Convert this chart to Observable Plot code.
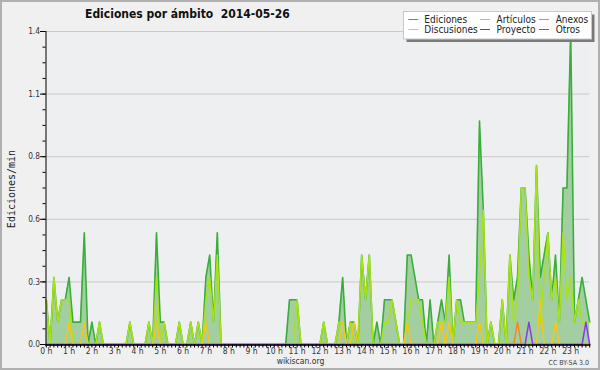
<!DOCTYPE html>
<html><head><meta charset="utf-8">
<script src="https://cdn.jsdelivr.net/npm/d3@7"></script>
<script src="https://cdn.jsdelivr.net/npm/@observablehq/plot@0.6"></script>
<style>
html,body{margin:0;padding:0;background:#f0f0f0;}
#wrap{position:relative;width:600px;height:370px;overflow:hidden;}
</style></head><body>
<div id="wrap"></div>
<script>
// 10-minute slots, 00:00 .. 23:50 (edits per minute)
const ediciones = [
0.2,0,0.3,0.1,0.2,0.2,0.3,0.1,0.1,0.1,
0.5,0,0.1,0,0.1,0,0,0,0,0,
0,0,0.1,0,0,0,0,0.1,0,0.5,
0.1,0.1,0,0,0,0.1,0,0,0.1,0,
0.1,0,0.3,0.4,0.1,0.5,0,0,0,0,
0,0,0,0,0,0,0,0,0,0,
0,0,0,0,0.2,0.2,0.2,0,0,0,
0,0,0,0.1,0,0,0,0.1,0.3,0,
0.1,0.1,0,0.4,0.2,0.4,0,0.1,0,0.2,
0.2,0.2,0.1,0,0,0.4,0.4,0.3,0.2,0.2,
0,0.2,0,0.1,0.2,0.1,0.4,0,0.2,0.2,
0.1,0.1,0.1,0.1,1.0,0.6,0,0.1,0,0,
0.2,0,0.4,0.2,0.3,0.7,0.7,0.4,0.2,0.8,
0.3,0.4,0.5,0.2,0.4,0.1,0.7,0.7,1.4,0.1,
0.2,0.3,0.2,0.1];
const articulos = [
0.2,0,0.3,0.1,0.2,0.2,0.2,0,0,0,
0,0,0,0,0.1,0,0,0,0,0,
0,0,0.1,0,0,0,0,0.1,0,0.3,
0,0.1,0,0,0,0.1,0,0,0.1,0,
0.1,0,0.2,0.3,0.1,0.4,0,0,0,0,
0,0,0,0,0,0,0,0,0,0,
0,0,0,0,0,0,0.2,0,0,0,
0,0,0,0.1,0,0,0,0.1,0.1,0,
0.1,0,0,0.4,0.2,0.4,0,0,0,0.1,
0.1,0.2,0.1,0,0,0.1,0.2,0.2,0.2,0.1,
0,0,0,0.1,0.1,0.1,0.3,0,0.2,0.1,
0.1,0.1,0.1,0.1,0.3,0.6,0,0.1,0,0,
0.2,0,0.4,0.1,0.2,0.7,0.7,0.3,0.2,0.8,
0.1,0.3,0.5,0.2,0.3,0.1,0.5,0.2,0.3,0.1,
0.2,0.1,0.1,0.1];
const discusiones = [
0,0,0,0,0,0,0.1,0,0,0,
0.1,0,0,0,0,0,0,0,0,0,
0,0,0,0,0,0,0,0,0,0.1,
0,0,0,0,0,0,0,0,0,0,
0,0,0.1,0,0,0,0,0,0,0,
0,0,0,0,0,0,0,0,0,0,
0,0,0,0,0,0,0,0,0,0,
0,0,0,0,0,0,0,0,0.1,0,
0,0.1,0,0,0,0,0,0,0,0,
0,0,0,0,0,0.1,0,0,0,0,
0,0,0,0,0.1,0,0.1,0,0,0,
0,0,0,0,0.1,0,0,0,0,0,
0,0,0,0,0,0,0,0,0,0,
0.2,0,0,0,0.1,0,0,0,0,0,
0,0,0,0];
const anexos = [
0,0,0,0,0,0,0,0,0,0, 0,0,0,0,0,0,0,0,0,0,
0,0,0,0,0,0,0,0,0,0, 0,0,0,0,0,0,0,0,0,0,
0,0,0,0,0,0,0,0,0,0, 0,0,0,0,0,0,0,0,0,0,
0,0,0,0,0,0,0,0,0,0, 0,0,0,0,0,0,0,0,0,0,
0,0,0,0,0,0,0,0,0,0, 0,0,0,0,0,0,0,0,0,0,
0,0,0,0,0,0,0,0,0,0, 0,0,0,0,0,0,0,0,0,0,
0,0,0,0,0.1,0,0,0,0,0, 0,0,0,0,0,0,0,0,0,0,
0,0,0,0];
const proyecto = [
0,0,0,0,0,0,0,0,0,0, 0,0,0,0,0,0,0,0,0,0,
0,0,0,0,0,0,0,0,0,0, 0,0,0,0,0,0,0,0,0,0,
0,0,0,0,0,0,0,0,0,0, 0,0,0,0,0,0,0,0,0,0,
0,0,0,0,0,0,0,0,0,0, 0,0,0,0,0,0,0,0,0,0,
0,0,0,0,0,0,0,0,0,0, 0,0,0,0,0,0,0,0,0,0,
0,0,0,0,0,0,0,0,0,0, 0,0,0,0,0,0,0,0,0,0,
0,0,0,0,0,0,0,0,0,0, 0,0,0,0,0,0,0,0,0,0,
0,0,0,0];
const otros = [
0,0,0,0,0,0,0,0,0,0, 0,0,0,0,0,0,0,0,0,0,
0,0,0,0,0,0,0,0,0,0, 0,0,0,0,0,0,0,0,0,0,
0,0,0,0,0,0,0,0,0,0, 0,0,0,0,0,0,0,0,0,0,
0,0,0,0,0,0,0,0,0,0, 0,0,0,0,0,0,0,0,0,0,
0,0,0,0,0,0,0,0,0,0, 0,0,0,0,0,0,0,0,0,0,
0,0,0,0,0,0,0,0,0,0, 0,0,0,0,0,0,0,0,0,0,
0,0,0,0,0,0,0,0.1,0,0, 0,0,0,0,0,0,0,0,0,0,
0,0,0.1,0];
const yTicks = [0, 0.28, 0.56, 0.84, 1.12, 1.4];
const yMinor = [0,0.07,0.14,0.21,0.28,0.35,0.42,0.49,0.56,0.63,0.70,0.77,0.84,0.91,0.98,1.05,1.12,1.19,1.26,1.33,1.4];
const hourLabels = ["0 h","1 h","2 h","3 h","4 h","5 h","6 h","7 h","8 h","9 h","10 h","11 h","12 h","13 h","14 h","15 h","16 h","17 h","18 h","19 h","20 h","21 h","22 h","23 h"];
const seriesNames = ["Ediciones","Artículos","Anexos","Discusiones","Proyecto","Otros"];
const seriesColors = ["#3aae3a","#a8e414","#f08a24","#f2c818","#555555","#8a3ce6"];

const slots = d3.range(ediciones.length);
const rows = slots.map(i => ({i, ediciones: ediciones[i], articulos: articulos[i], discusiones: discusiones[i], anexos: anexos[i], proyecto: proyecto[i], otros: otros[i]}));
const col = Object.fromEntries(seriesNames.map((n,k)=>[n, seriesColors[k]]));

const FONT = "'DejaVu Sans Condensed','DejaVu Sans',sans-serif";
const line = (key, name, w=1.5) => Plot.lineY(rows, {x: "i", y: key, stroke: col[name], strokeWidth: w});

const chart = Plot.plot({
  width: 600, height: 370,
  marginLeft: 45.5, marginRight: 11, marginTop: 31, marginBottom: 25.5,
  style: {background: "#f0f0f0", fontFamily: FONT, fontStretch: "condensed", overflow: "visible"},
  x: {domain: [0, 143], range: [45.8, 589.2]},
  y: {domain: [0, 1.4], range: [344, 31]},
  marks: [
    Plot.frame({fill: "#eeeff1", stroke: null}),
    Plot.ruleY(yTicks.slice(1), {stroke: "#c9c9c9", strokeWidth: 1}),
    Plot.areaY(rows, {x: "i", y: "ediciones", fill: "#a2cea2"}),
    line("ediciones", "Ediciones", 1.6),
    line("proyecto", "Proyecto"),
    line("articulos", "Artículos"),
    line("anexos", "Anexos"),
    line("discusiones", "Discusiones"),
    line("otros", "Otros"),
    Plot.axisY({ticks: yMinor, tickSize: 3, tickFormat: () => "", label: null, stroke: "#000"}),
    Plot.axisY({ticks: yTicks, tickSize: 5.5, tickPadding: 0.5, tickFormat: d => d.toFixed(1), label: null, fontSize: 8.3, fill: "#333", stroke: "#000"}),
    Plot.axisX({ticks: slots, tickSize: 3, tickFormat: () => "", label: null, stroke: "#000"}),
    Plot.axisX({ticks: slots.filter(i => i % 6 === 0), tickSize: 0, tickPadding: 3, tickFormat: i => hourLabels[i/6], label: null, fontSize: 8.5, fill: "#333"}),
    Plot.frame({anchor: "left", stroke: "#000", strokeWidth: 1}),
    Plot.frame({anchor: "bottom", stroke: "#000", strokeWidth: 1.5})
  ]
});
document.getElementById("wrap").appendChild(chart);

const svg = d3.select(chart);
// border
svg.append("rect").attr("x",1).attr("y",1).attr("width",598).attr("height",368)
  .attr("fill","none").attr("stroke","#b0b0b0").attr("stroke-width",2);
// title
svg.append("text").attr("x",85).attr("y",18.3).attr("text-anchor","start").attr("font-family",FONT).attr("font-stretch","condensed")
  .attr("font-weight","bold").attr("font-size",12).attr("fill","#111")
  .text("Ediciones por ámbito  2014-05-26").style("white-space","pre");
// y label
svg.append("text").attr("transform","translate(14.5,189) rotate(-90)").attr("text-anchor","middle")
  .attr("font-family","'DejaVu Sans Mono',monospace").attr("font-size",10).attr("fill","#222")
  .text("Ediciones/min");
// footer
svg.append("text").attr("x",300.5).attr("y",364).attr("text-anchor","middle").attr("font-family",FONT)
  .attr("font-stretch","condensed").attr("font-size",8.5).attr("fill","#333").text("wikiscan.org");
svg.append("text").attr("x",589).attr("y",365).attr("text-anchor","end").attr("font-family",FONT)
  .attr("font-stretch","condensed").attr("font-size",7).attr("fill","#444").text("CC BY-SA 3.0");
// legend
const lg = svg.append("g");
lg.append("rect").attr("x",406.5).attr("y",14.5).attr("width",188).attr("height",27.5).attr("fill","#7a7a7a");
lg.append("rect").attr("x",403.5).attr("y",11.5).attr("width",188).attr("height",27.5).attr("fill","#fff").attr("stroke","#c8c8c8");
const colX = [[408.3,424.3],[480,496.5],[539,555.7]];
seriesNames.forEach((n,k) => {
  const r = Math.floor(k/3), c = k%3;
  const ly = 19.5 + r*10;
  lg.append("line").attr("x1",colX[c][0]).attr("x2",colX[c][0]+10).attr("y1",ly).attr("y2",ly)
    .attr("stroke",col[n]).attr("stroke-width",1);
  lg.append("text").attr("x",colX[c][1]).attr("y",22.6 + r*10).attr("text-anchor","start").attr("font-family",FONT).attr("font-stretch","condensed")
    .attr("font-size",10).attr("fill","#222").text(n);
});
</script>
</body></html>
